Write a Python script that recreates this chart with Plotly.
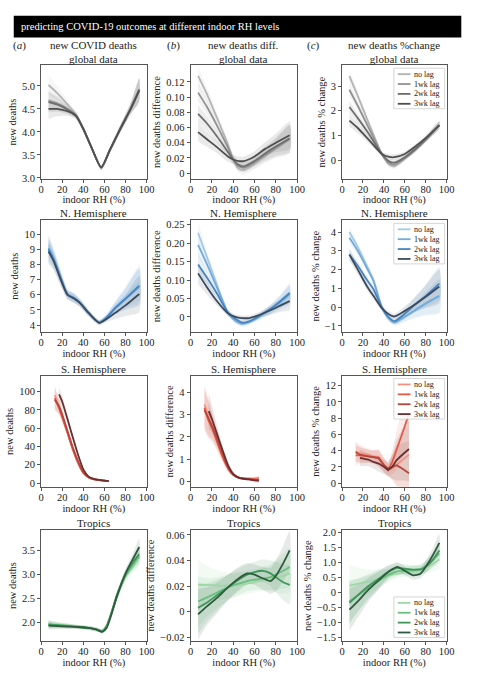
import plotly.graph_objects as go

W, H = 482, 680
FONT = "Liberation Serif, Times New Roman, serif"

LAGS = ["no lag", "1wk lag", "2wk lag", "3wk lag"]
GRAYS = ["#b3b3b3", "#919191", "#6e6e6e", "#4f4f4f"]
BLUES = ["#a3c9e6", "#73abd8", "#4683bf", "#3b4a5c"]
REDS = ["#f39181", "#e25a47", "#b9463d", "#6a2f2e"]
GREENS = ["#9fd6a6", "#69bf7e", "#3f9558", "#2f5a3f"]

# ---- global data ----
glob_deaths_x = [7, 15, 25, 33, 40, 48, 57, 65, 75, 85, 93]
glob_deaths = [
    [5.02, 4.85, 4.6, 4.38, 4.08, 3.65, 3.22, 3.6, 4.07, 4.52, 4.93],
    [4.68, 4.62, 4.5, 4.36, 4.07, 3.65, 3.22, 3.6, 4.07, 4.52, 4.93],
    [4.65, 4.6, 4.49, 4.36, 4.07, 3.65, 3.23, 3.6, 4.07, 4.52, 4.92],
    [4.5, 4.5, 4.45, 4.35, 4.06, 3.65, 3.23, 3.6, 4.06, 4.5, 4.9],
]
glob_deaths_band = [0.22, 0.16, 0.1, 0.07, 0.06, 0.05, 0.05, 0.06, 0.08, 0.12, 0.25]

glob_diff_x = [7, 15, 25, 35, 40, 45, 50, 60, 70, 80, 93]
glob_diff = [
    [0.128, 0.105, 0.072, 0.038, 0.018, 0.006, 0.004, 0.012, 0.022, 0.032, 0.044],
    [0.106, 0.088, 0.062, 0.034, 0.018, 0.009, 0.007, 0.014, 0.024, 0.033, 0.045],
    [0.078, 0.066, 0.048, 0.028, 0.018, 0.011, 0.009, 0.016, 0.026, 0.035, 0.046],
    [0.054, 0.045, 0.034, 0.022, 0.018, 0.016, 0.016, 0.022, 0.032, 0.040, 0.050],
]
glob_diff_band = [0.012, 0.01, 0.008, 0.007, 0.006, 0.006, 0.006, 0.007, 0.009, 0.012, 0.018]

glob_pct_x = [7, 15, 25, 38, 45, 50, 60, 70, 80, 93]
glob_pct = [
    [3.4, 2.6, 1.55, 0.25, -0.18, -0.25, 0.05, 0.4, 0.8, 1.42],
    [2.85, 2.2, 1.35, 0.25, -0.12, -0.18, 0.08, 0.42, 0.82, 1.42],
    [2.15, 1.7, 1.1, 0.25, -0.05, -0.1, 0.12, 0.45, 0.85, 1.42],
    [1.6, 1.3, 0.85, 0.25, 0.13, 0.12, 0.25, 0.55, 0.9, 1.42],
]
glob_pct_band = [0.25, 0.2, 0.15, 0.1, 0.12, 0.12, 0.1, 0.1, 0.1, 0.15]

# ---- N. Hemisphere ----
nh_deaths_x = [7, 12, 18, 25, 31, 37, 45, 55, 62, 70, 80, 93]
nh_deaths = [
    [9.3, 8.5, 7.3, 6.1, 5.85, 5.45, 4.8, 4.2, 4.55, 5.2, 5.9, 6.8],
    [9.1, 8.4, 7.3, 6.05, 5.8, 5.45, 4.8, 4.2, 4.5, 5.1, 5.7, 6.5],
    [9.0, 8.3, 7.2, 6.0, 5.8, 5.45, 4.8, 4.15, 4.5, 5.1, 5.75, 6.6],
    [8.85, 8.2, 7.1, 6.0, 5.75, 5.45, 4.8, 4.15, 4.4, 4.8, 5.3, 6.05],
]
nh_deaths_band = [0.8, 0.6, 0.45, 0.3, 0.3, 0.25, 0.2, 0.15, 0.2, 0.4, 0.7, 1.2]

nh_diff_x = [7, 15, 25, 35, 42, 48, 55, 65, 75, 85, 93]
nh_diff = [
    [0.228, 0.165, 0.085, 0.012, -0.012, -0.02, -0.015, 0.0, 0.018, 0.038, 0.058],
    [0.195, 0.145, 0.078, 0.012, -0.01, -0.018, -0.013, 0.002, 0.02, 0.042, 0.062],
    [0.142, 0.108, 0.062, 0.012, -0.005, -0.015, -0.012, 0.004, 0.022, 0.045, 0.065],
    [0.118, 0.082, 0.042, 0.010, 0.0, -0.003, -0.003, 0.006, 0.018, 0.032, 0.043],
]
nh_diff_band = [0.03, 0.02, 0.012, 0.008, 0.007, 0.007, 0.007, 0.008, 0.012, 0.018, 0.025]

nh_pct_x = [7, 15, 25, 30, 38, 44, 50, 60, 70, 80, 93]
nh_pct = [
    [4.0, 3.2, 2.05, 1.45, 0.0, -0.6, -0.85, -0.55, -0.2, 0.15, 0.55],
    [3.7, 3.0, 1.95, 1.4, 0.0, -0.55, -0.8, -0.5, -0.15, 0.2, 0.6],
    [2.8, 2.2, 1.35, 0.95, 0.0, -0.5, -0.75, -0.35, 0.15, 0.6, 1.25],
    [2.8, 2.0, 1.0, 0.6, -0.05, -0.35, -0.5, -0.2, 0.15, 0.55, 1.1],
]
nh_pct_band = [0.3, 0.25, 0.2, 0.2, 0.15, 0.15, 0.15, 0.25, 0.4, 0.6, 0.9]

# ---- S. Hemisphere ----
sh_x = [13, 17, 20, 25, 30, 35, 40, 45, 50, 55, 60, 64]
sh_deaths = [
    [96, 83, 73, 55, 37, 22, 11, 6, 4, 3.2, 2.6, 2.0],
    [93, 82, 72, 55, 37, 22, 11, 6, 4, 3.2, 2.6, 2.0],
    [91, 84, 75, 57, 39, 24, 12, 6.5, 4.2, 3.3, 2.6, 2.0],
    [None, 97, 89, 70, 50, 31, 15, 7, 4.5, 3.4, 2.7, 2.1],
]
sh_deaths_band = [12, 8, 6, 4, 3, 2, 1.5, 1, 0.8, 0.6, 0.6, 0.6]

sh_diff = [
    [3.45, 2.9, 2.5, 1.8, 1.15, 0.6, 0.3, 0.18, 0.15, 0.15, 0.15, 0.18],
    [3.3, 2.7, 2.4, 1.75, 1.1, 0.6, 0.3, 0.18, 0.14, 0.12, 0.1, 0.1],
    [3.2, 2.8, 2.5, 1.9, 1.25, 0.65, 0.32, 0.18, 0.13, 0.11, 0.08, 0.07],
    [None, 3.15, 2.8, 2.1, 1.4, 0.75, 0.35, 0.18, 0.12, 0.1, 0.06, 0.05],
]
sh_diff_band = [0.9, 0.8, 0.6, 0.4, 0.25, 0.15, 0.08, 0.05, 0.05, 0.06, 0.08, 0.1]

sh_pct_x = [13, 17, 25, 30, 35, 40, 44, 48, 52, 56, 60, 64]
sh_pct = [
    [3.9, 3.7, 3.5, 3.3, 3.2, 2.3, 1.6, 1.8, 2.2, 2.6, 3.0, 3.5],
    [3.4, 3.4, 3.3, 3.2, 3.0, 2.2, 1.6, 2.6, 4.0, 5.5, 7.0, 8.6],
    [3.8, 3.5, 3.3, 3.2, 3.1, 2.2, 1.8, 2.0, 2.2, 1.9, 1.5, 1.2],
    [None, 3.1, 2.9, 2.6, 2.4, 2.0, 1.6, 2.0, 2.8, 3.3, 3.8, 4.2],
]
sh_pct_band = [1.2, 1.0, 0.8, 0.8, 1.0, 0.9, 0.8, 1.5, 2.5, 3.0, 3.5, 4.0]

# ---- Tropics ----
tr_deaths_x = [7, 15, 25, 35, 45, 52, 58, 62, 66, 72, 80, 87, 93]
tr_deaths = [
    [1.97, 1.95, 1.93, 1.91, 1.88, 1.85, 1.82, 1.93, 2.15, 2.55, 2.95, 3.15, 3.35],
    [1.96, 1.94, 1.93, 1.91, 1.88, 1.85, 1.82, 1.92, 2.15, 2.55, 2.97, 3.2, 3.38],
    [1.95, 1.94, 1.92, 1.90, 1.88, 1.85, 1.81, 1.9, 2.15, 2.58, 3.0, 3.25, 3.42],
    [1.93, 1.92, 1.91, 1.90, 1.88, 1.85, 1.80, 1.88, 2.12, 2.55, 3.02, 3.32, 3.57],
]
tr_deaths_band = [0.08, 0.06, 0.05, 0.04, 0.04, 0.04, 0.04, 0.05, 0.07, 0.08, 0.1, 0.12, 0.18]

tr_x = [7, 15, 25, 35, 45, 53, 60, 68, 75, 80, 87, 93]
tr_diff = [
    [0.021, 0.021, 0.0205, 0.0205, 0.021, 0.022, 0.023, 0.025, 0.026, 0.027, 0.028, 0.030],
    [0.008, 0.011, 0.015, 0.019, 0.022, 0.024, 0.025, 0.026, 0.027, 0.029, 0.032, 0.035],
    [0.003, 0.007, 0.013, 0.019, 0.025, 0.029, 0.031, 0.032, 0.030, 0.027, 0.023, 0.021],
    [-0.002, 0.004, 0.011, 0.019, 0.026, 0.030, 0.029, 0.026, 0.024, 0.028, 0.038, 0.048],
]
tr_diff_band = [0.02, 0.015, 0.012, 0.01, 0.009, 0.008, 0.008, 0.009, 0.01, 0.012, 0.014, 0.015]

tr_pct = [
    [0.22, 0.28, 0.36, 0.45, 0.55, 0.62, 0.66, 0.7, 0.75, 0.82, 0.95, 1.1],
    [-0.3, -0.1, 0.15, 0.38, 0.6, 0.7, 0.72, 0.74, 0.78, 0.88, 1.08, 1.3],
    [-0.35, -0.1, 0.2, 0.45, 0.7, 0.82, 0.78, 0.76, 0.76, 0.85, 1.1, 1.4],
    [-0.58, -0.3, 0.08, 0.4, 0.7, 0.85, 0.72, 0.57, 0.62, 0.85, 1.25, 1.65],
]
tr_pct_band = [0.7, 0.55, 0.4, 0.3, 0.2, 0.15, 0.15, 0.15, 0.15, 0.2, 0.25, 0.3]

# tick labels per panel
X_TICKS = [0, 20, 40, 60, 80, 100]
TICKS = {
    1: ([3.0, 3.5, 4.0, 4.5, 5.0], ["3.0", "3.5", "4.0", "4.5", "5.0"]),
    2: ([0, 0.02, 0.04, 0.06, 0.08, 0.10, 0.12], ["0", "0.02", "0.04", "0.06", "0.08", "0.10", "0.12"]),
    3: ([0, 1, 2, 3], ["0", "1", "2", "3"]),
    4: ([4, 5, 6, 7, 8, 9, 10], ["4", "5", "6", "7", "8", "9", "10"]),
    5: ([0, 0.05, 0.10, 0.15, 0.20, 0.25], ["0", "0.05", "0.10", "0.15", "0.20", "0.25"]),
    6: ([-1, 0, 1, 2, 3, 4], ["\u22121", "0", "1", "2", "3", "4"]),
    7: ([0, 20, 40, 60, 80, 100], ["0", "20", "40", "60", "80", "100"]),
    8: ([0, 1, 2, 3, 4], ["0", "1", "2", "3", "4"]),
    9: ([0, 2, 4, 6, 8, 10, 12], ["0", "2", "4", "6", "8", "10", "12"]),
    10: ([2.0, 2.5, 3.0, 3.5], ["2.0", "2.5", "3.0", "3.5"]),
    11: ([-0.02, 0, 0.02, 0.04, 0.06], ["\u22120.02", "0", "0.02", "0.04", "0.06"]),
    12: ([-1.5, -1.0, -0.5, 0, 0.5, 1.0, 1.5, 2.0],
         ["\u22121.5", "\u22121.0", "\u22120.5", "0", "0.5", "1.0", "1.5", "2.0"]),
}
Y_RANGES = {
    1: [2.98, 5.45], 2: [-0.0075, 0.142], 3: [-0.76, 3.84],
    4: [3.54, 10.9], 5: [-0.041, 0.2615], 6: [-1.33, 4.62],
    7: [-4.6, 117.6], 8: [-0.25, 4.74], 9: [-0.52, 13.26],
    10: [1.6, 3.93], 11: [-0.0232, 0.0641], 12: [-1.64, 2.09],
}

XDOM = [(39, 147), (192, 301), (347, 454)]
YDOM = [(63, 178), (220, 333), (377, 490), (533, 646)]
YLABELS = ["new deaths", "new deaths difference", "new deaths % change"]
LEGEND_TOPS = [66, 223, 380, 601]
PALETTES = [GRAYS, BLUES, REDS, GREENS]


def rgba(hexc, a):
    h = hexc.lstrip("#")
    r, g, b = int(h[0:2], 16), int(h[2:4], 16), int(h[4:6], 16)
    return f"rgba({r},{g},{b},{a})"


fig = go.Figure()


def add_panel(k, xs, series, band, colors, shape="spline"):
    xa, ya = f"x{k}", f"y{k}"
    for i, ys in enumerate(series):
        pts = [(x, y, b) for x, y, b in zip(xs, ys, band) if y is not None]
        px_ = [p[0] for p in pts]
        up = [p[1] + p[2] for p in pts]
        lo = [p[1] - p[2] for p in pts]
        fig.add_trace(go.Scatter(
            x=px_ + px_[::-1], y=up + lo[::-1], fill="toself", mode="lines",
            line=dict(width=0, shape=shape, smoothing=0.6),
            fillcolor=rgba(colors[i], 0.12), hoverinfo="skip",
            showlegend=False, xaxis=xa, yaxis=ya,
        ))
    for i, ys in enumerate(series):
        fig.add_trace(go.Scatter(
            x=xs, y=ys, mode="lines", name=LAGS[i],
            line=dict(color=colors[i], width=1.8, shape=shape, smoothing=0.6),
            showlegend=False, xaxis=xa, yaxis=ya,
        ))


add_panel(1, glob_deaths_x, glob_deaths, glob_deaths_band, GRAYS)
add_panel(2, glob_diff_x, glob_diff, glob_diff_band, GRAYS)
add_panel(3, glob_pct_x, glob_pct, glob_pct_band, GRAYS)
add_panel(4, nh_deaths_x, nh_deaths, nh_deaths_band, BLUES)
add_panel(5, nh_diff_x, nh_diff, nh_diff_band, BLUES)
add_panel(6, nh_pct_x, nh_pct, nh_pct_band, BLUES)
add_panel(7, sh_x, sh_deaths, sh_deaths_band, REDS)
add_panel(8, sh_x, sh_diff, sh_diff_band, REDS)
add_panel(9, sh_pct_x, sh_pct, sh_pct_band, REDS, shape="linear")
add_panel(10, tr_deaths_x, tr_deaths, tr_deaths_band, GREENS)
add_panel(11, tr_x, tr_diff, tr_diff_band, GREENS)
add_panel(12, tr_x, tr_pct, tr_pct_band, GREENS)

axis_font = dict(family=FONT, size=10.5, color="#222")
layout = {}
for r in range(4):
    for c in range(3):
        k = r * 3 + c + 1
        x0, x1 = XDOM[c]
        y0, y1 = YDOM[r]
        tv, tt = TICKS[k]
        common = dict(showline=True, linecolor="#555", linewidth=1, mirror=True,
                      ticks="outside", ticklen=3, tickcolor="#555", showgrid=False,
                      zeroline=False, tickfont=axis_font)
        layout[f"xaxis{k}"] = dict(
            domain=[x0 / W, x1 / W], anchor=f"y{k}", range=[0, 100],
            tickvals=X_TICKS, ticklabelstandoff=-3,
            title=dict(text="indoor RH (%)", font=axis_font, standoff=0),
            **common)
        layout[f"yaxis{k}"] = dict(
            domain=[1 - y1 / H, 1 - y0 / H], anchor=f"x{k}", range=Y_RANGES[k],
            tickvals=tv, ticktext=tt,
            title=dict(text=YLABELS[c], font=axis_font, standoff=3), **common)
fig.update_layout(**layout)

ann = []
shapes = [dict(type="rect", xref="paper", yref="paper", x0=11 / W, x1=469 / W,
               y0=1 - 35 / H, y1=1 - 13 / H, fillcolor="black", line=dict(width=0))]
title_font = dict(family=FONT, size=11, color="#222")
row1_titles = ["new COVID deaths<br>global data", "new deaths diff.<br>global data",
               "new deaths %change<br>global data"]
row_titles = ["N. Hemisphere", "S. Hemisphere", "Tropics"]
for c in range(3):
    xc = (XDOM[c][0] + XDOM[c][1]) / 2 / W
    ann.append(dict(text=row1_titles[c], x=xc, y=1 - 50 / H, xref="paper", yref="paper",
                    xanchor="center", yanchor="middle", showarrow=False, font=title_font))
    for r in range(1, 4):
        ann.append(dict(text=row_titles[r - 1], x=xc, y=1 - (YDOM[r][0] - 7) / H,
                        xref="paper", yref="paper", xanchor="center", yanchor="middle",
                        showarrow=False, font=title_font, borderpad=0))
for lbl, xp in zip(["a", "b", "c"], [17, 174, 318]):
    ann.append(dict(text=f"(<i>{lbl}</i>)", x=xp / W, y=1 - 43 / H, xref="paper", yref="paper",
                    xanchor="center", yanchor="middle", showarrow=False, font=title_font))
ann.append(dict(text="predicting COVID-19 outcomes at different indoor RH levels",
                x=16 / W, y=1 - 24 / H, xref="paper", yref="paper", xanchor="left",
                yanchor="middle", showarrow=False,
                font=dict(family=FONT, size=10.5, color="white")))

# small legend boxes in the right-hand column
leg_font = dict(family=FONT, size=8, color="#222")
for top, pal in zip(LEGEND_TOPS, PALETTES):
    shapes.append(dict(type="rect", xref="paper", yref="paper", x0=400 / W, x1=452 / W,
                       y0=1 - (top + 41) / H, y1=1 - top / H, fillcolor="rgba(255,255,255,0.85)",
                       line=dict(color="#cccccc", width=0.8)))
    for i, name in enumerate(LAGS):
        yy = 1 - (top + 6 + 10 * i) / H
        shapes.append(dict(type="line", xref="paper", yref="paper", x0=404 / W, x1=417 / W,
                           y0=yy, y1=yy, line=dict(color=pal[i], width=1.8)))
        ann.append(dict(text=name, x=420 / W, y=yy, xref="paper", yref="paper",
                        xanchor="left", yanchor="middle", showarrow=False, font=leg_font,
                        borderpad=0))

fig.update_layout(
    width=W, height=H, margin=dict(l=0, r=0, t=0, b=0),
    paper_bgcolor="white", plot_bgcolor="white",
    font=dict(family=FONT, color="#222"),
    annotations=ann, shapes=shapes, showlegend=False,
)

fig.write_html("out.html", config={"displayModeBar": False},
               post_script="document.body.style.margin='0px';")
